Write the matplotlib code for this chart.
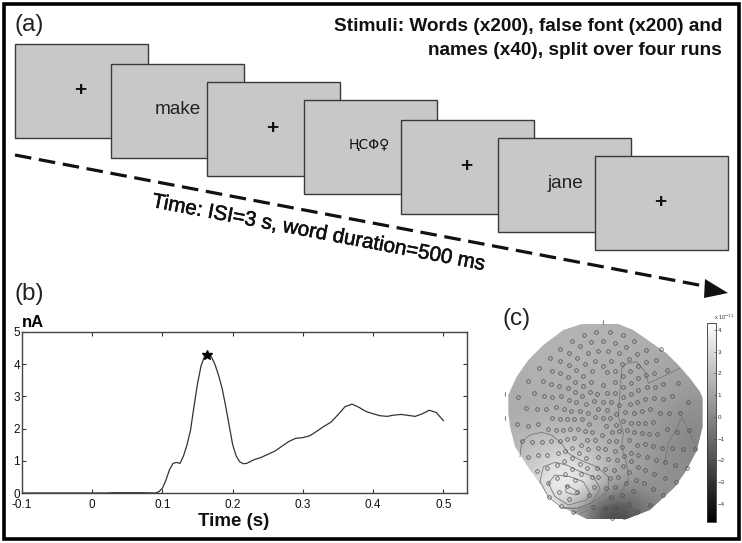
import numpy as np
import matplotlib
matplotlib.use('Agg')
import matplotlib.pyplot as plt
from matplotlib.patches import Rectangle, Polygon
from matplotlib.cm import ScalarMappable
from matplotlib.colors import Normalize
import matplotlib.patheffects as pe

plt.rcParams['font.family'] = ['Liberation Sans', 'DejaVu Sans']

# (b) current over time
time_s = [-0.1, 0.02, 0.03, 0.07, 0.09, 0.095, 0.10, 0.105, 0.11, 0.115, 0.12, 0.125, 0.13, 0.135,
          0.14, 0.145, 0.15, 0.155, 0.16, 0.165, 0.17, 0.175, 0.18, 0.185, 0.19, 0.195, 0.20, 0.205,
          0.21, 0.215, 0.22, 0.23, 0.24, 0.25, 0.26, 0.27, 0.28, 0.29, 0.30, 0.31, 0.32, 0.33, 0.34,
          0.35, 0.36, 0.37, 0.38, 0.39, 0.40, 0.41, 0.42, 0.43, 0.44, 0.45, 0.46, 0.47, 0.48, 0.49, 0.50]
current_na = [0.0, 0.0, 0.01, 0.01, 0.0, 0.04, 0.15, 0.4, 0.72, 0.92, 0.95, 0.92, 1.15, 1.5,
              1.95, 2.7, 3.4, 3.95, 4.25, 4.33, 4.22, 3.98, 3.65, 3.25, 2.7, 2.1, 1.5, 1.15,
              0.97, 0.91, 0.92, 1.03, 1.1, 1.2, 1.3, 1.45, 1.6, 1.7, 1.72, 1.78, 1.92, 2.07, 2.2,
              2.43, 2.68, 2.76, 2.66, 2.53, 2.46, 2.4, 2.38, 2.42, 2.44, 2.41, 2.38, 2.46, 2.57, 2.5, 2.25]
peak = (0.164, 4.3)

# (c) field grey levels, read on a coarse grid over the head
field = [[.70, .70, .70, .70, .70, .69, .68, .67, .66],
         [.70, .70, .70, .70, .69, .68, .67, .66, .64],
         [.68, .69, .69, .69, .68, .67, .66, .64, .62],
         [.67, .68, .68, .68, .67, .66, .64, .61, .58],
         [.68, .70, .70, .69, .67, .65, .62, .58, .54],
         [.72, .76, .78, .74, .69, .65, .61, .56, .52],
         [.74, .82, .90, .85, .72, .65, .60, .56, .54],
         [.78, .88, .98, .92, .66, .58, .58, .57, .56],
         [.75, .80, .78, .55, .28, .30, .48, .55, .56]]

head_x = [305, 415, 460, 510, 560, 595, 630, 660, 668, 668, 651, 620, 585, 510, 441, 320, 260, 205, 150, 105, 90, 85, 85, 110, 145, 190, 250]
head_y = [72, 72, 90, 125, 160, 195, 235, 275, 295, 380, 450, 510, 561, 630, 657, 657, 628, 585, 510, 440, 380, 340, 285, 230, 180, 135, 90]

# sensors, read per quadrant of the map
sensors_tl = [(251,45),(289,35),(216,62),(274,67),(241,78),(180,88),(208,99),(263,98),(294,93),(150,115),
              (181,124),(231,115),(284,122),(207,135),(254,131),(118,145),(156,153),(179,160),(228,150),(276,153),
              (205,170),(250,168),(84,182),(130,182),(154,193),(178,197),(226,185),(273,185),(204,205),(249,198),
              (103,219),(131,227),(155,231),(182,229),(225,217),(270,215),(54,231),(206,239),(247,228),
              (291,222),(228,247),(259,253),(281,243),(79,265),(110,267),(139,267),(168,260),(191,266),(213,272),
              (240,272),(265,280),(295,268),(156,295),(180,297),(200,298),(222,298),(245,298),(285,292)]
sensors_tr = [(29,35),(68,45),(8,62),(44,68),(103,63),(77,81),(25,92),(57,100),(111,101),(139,90),(182,87),
              (33,122),(88,116),(139,127),(169,120),(10,137),(66,132),(113,139),(46,153),(91,153),(139,165),
              (163,158),(202,151),(22,157),(70,168),(114,175),(44,187),(93,190),(164,200),(188,192),(235,190),
              (8,195),(69,200),(141,202),(21,220),(46,218),(93,222),(115,210),(216,229),(70,231),(136,238),
              (163,235),(188,237),(8,245),(33,246),(112,245),(89,253),(265,245),(57,256),(20,269),(48,282),
              (76,277),(102,278),(126,274),(150,268),(179,279),(208,280),(240,280),(8,295),(30,295)]
sensors_bl = [(51,12),(84,19),(115,13),(143,27),(167,31),(189,30),(211,28),(233,28),(254,33),(275,35),(268,11),
              (65,64),(97,66),(125,67),(153,64),(180,62),(201,57),(223,53),(242,74),
              (262,60),(285,60),(216,84),(84,111),(115,106),(142,104),(174,100),(196,93),(236,100),(265,88),
              (293,85),(216,114),(257,115),(191,122),(293,112),(239,131),(171,135),(142,145),(262,143),(290,145),
              (216,148),(110,153),(196,162),(243,163),(275,172),(171,174),(144,188),(224,181),(202,199),(232,216),
              (176,216),(147,231),(266,225),(208,238),(283,201),(294,170),(278,260),(218,275),(182,257)]
sensors_br = [(17,18),(47,14),(68,4),(92,8),(114,9),(135,8),(158,6),(6,45),(36,37),(57,32),(80,30),(103,36),
              (126,40),(147,43),(172,42),(202,28),(232,37),(266,30),(26,62),(47,64),(88,60),(110,74),(134,73),
              (160,78),(187,83),(217,85),(249,86),(284,88),(16,88),(44,92),(67,80),(93,99),(115,104),
              (24,118),(52,120),(72,108),(92,124),(141,112),(168,120),(196,127),(226,134),(260,143),(15,146),
              (43,149),(70,137),(113,140),(87,157),(136,151),(163,162),(196,174),(228,186),(31,175),(55,170),
              (79,190),(108,180),(131,190),(17,204),(46,200),(98,212),(158,208),(188,226),(34,232),(67,226),
              (88,252),(149,256),(16,263),(45,261),(112,277),(72,290),(35,295)]
stray_sensors = [(75, 282), (75, 355), (368, 65)]

contours = [
    [(600,205),(505,250),(495,215),(470,185),(440,190),(425,205),(418,300),(415,350),(430,400),(425,440),
     (440,490),(445,540),(420,580),(350,610),(280,640)],
    [(120,470),(125,425),(150,405),(185,397),(215,405),(245,430),(265,460),(300,480),(350,500),(385,530),
     (385,570),(350,600),(300,625),(250,625)],
    [(180,545),(190,500),(225,487),(260,495),(290,510),(340,530),(360,565),(335,610),(290,625),(245,622),
     (205,590),(180,545)],
    [(205,550),(225,525),(270,530),(310,545),(330,580),(320,600),(265,615),(225,590),(205,550)],
    [(258,558),(265,558),(298,577),(288,585),(258,577),(258,558)],
    [(555,490),(555,480),(565,430),(595,375),(605,350),(625,390),(650,450)],
    [(300,640),(360,615),(420,600),(470,620),(510,625)],
]

colorbar_ticks = [4, 3, 2, 1, 0, -1, -2, -3, -4]

# (a) the stimulus screens, left and top corner in image pixels
screen_left = [15, 110.5, 207, 304, 401, 498, 594.5]
screen_top = [44, 63.5, 81.5, 100, 120, 137.5, 156]
crosses = [(80, 91), (272, 129), (466, 167), (660, 203)]

figure = plt.figure(figsize=(7.42, 5.43), dpi=100)

page = figure.add_axes([0, 0, 1, 1])
page.set_xlim(0, 742)
page.set_ylim(543, 0)
page.axis('off')

for left, top in zip(screen_left, screen_top):
    page.add_patch(Rectangle((left, top), 133, 94, facecolor='#c8c8c8', edgecolor='#3a3a3a', linewidth=1.0))

for x, y in crosses:
    page.text(x, y, '+', fontsize=15, fontweight='bold', color='#111111', ha='center', va='center')
page.text(178, 109, 'make', fontsize=13.7, color='#222222', ha='center', va='center')
page.text(565, 184, 'jane', fontsize=13.7, color='#222222', ha='center', va='center')
page.text(369, 145, 'ⱧCΦ♀', fontsize=10, color='#111111', ha='center', va='center',
          family=['DejaVu Sans'])

page.text(722, 31, 'Stimuli: Words (x200), false font (x200) and', fontsize=13.7, fontweight='bold',
          ha='right', va='baseline', color='#111111')
page.text(722, 55, 'names (x40), split over four runs', fontsize=13.7, fontweight='bold',
          ha='right', va='baseline', color='#111111')

page.plot([15, 704], [155, 286], color='#111111', linewidth=2.3, dashes=(5.2, 2.4))
page.add_patch(Polygon([(728, 293), (705, 279), (704, 298)], closed=True, facecolor='#111111', edgecolor='none'))
page.text(154, 192, 'Time: ISI=3 s, word duration=500 ms', fontsize=14.9, rotation=-10.8, rotation_mode='anchor',
          ha='left', va='top', color='#111111',
          path_effects=[pe.withStroke(linewidth=0.4, foreground='#111111')])

page.text(15, 31, '(a)', fontsize=17.5, color='#222222', va='baseline')
page.text(15, 300, '(b)', fontsize=17.5, color='#222222', va='baseline')
page.text(502, 325, '(c)', fontsize=17.5, color='#222222', va='baseline')
page.text(234, 526, 'Time (s)', fontsize=13.5, fontweight='bold', ha='center', va='baseline', color='#111111')

page.add_patch(Rectangle((3.5, 3.5), 735, 535.5, fill=False, edgecolor='black', linewidth=2.6))

# (b)
axis = figure.add_axes([22 / 742, 1 - 493 / 543, (466.5 - 22) / 742, (493 - 332) / 543])
axis.plot(time_s, current_na, color='#333333', linewidth=0.9)
axis.plot([peak[0]], [peak[1]], marker='*', markersize=7, color='black', linestyle='none')
axis.set_xlim(-0.1, 0.533)
axis.set_ylim(0, 5)
axis.set_xticks([-0.1, 0, 0.1, 0.2, 0.3, 0.4, 0.5])
axis.set_xticklabels(['-0.1', '0', '0.1', '0.2', '0.3', '0.4', '0.5'])
axis.set_yticks([0, 1, 2, 3, 4, 5])
axis.tick_params(direction='in', top=True, right=True, length=3, width=0.8, color='#333333',
                 labelsize=8.5, labelcolor='#111111')
axis.tick_params(axis='x', pad=4.5)
axis.tick_params(axis='y', pad=1.5)
for spine in axis.spines.values():
    spine.set_color('#444444')
    spine.set_linewidth(1.0)
axis.text(11 / 444.5, 1.012, 'nA', transform=axis.transAxes, fontsize=12, fontweight='bold', ha='center', va='bottom')

# (c) map, in units of a third of a pixel from (480, 300)
topo = figure.add_axes([480 / 742, 0, 262 / 742, 243 / 543])
topo.axis('off')
topo.patch.set_alpha(0)
image = topo.imshow(field, extent=(85, 668, 657, 72), cmap='gray', vmin=0, vmax=1,
                    interpolation='bicubic', aspect='auto')
outline = Polygon(list(zip(head_x, head_y)), closed=True, transform=topo.transData, facecolor='none', edgecolor='none')
topo.add_patch(outline)
image.set_clip_path(outline)
topo.set_xlim(0, 786)
topo.set_ylim(729, 0)

for line in contours:
    xs, ys = zip(*line)
    topo.plot(xs, ys, color='#777777', linewidth=0.6)

quadrants = [(sensors_tl, 60, 60), (sensors_tr, 360, 60), (sensors_bl, 60, 360), (sensors_br, 360, 360)]
for points, dx, dy in quadrants:
    xs = [p[0] + dx for p in points]
    ys = [p[1] + dy for p in points]
    topo.plot(xs, ys, linestyle='none', marker='o', markersize=2.6, markerfacecolor='none',
              markeredgecolor='#4a4a4a', markeredgewidth=0.5)
topo.plot([p[0] for p in stray_sensors], [p[1] for p in stray_sensors], linestyle='none', marker='$($',
          markersize=3, color='#555555', markeredgewidth=0.2)

# colorbar
bar = figure.add_axes([707 / 742, 1 - 522 / 543, 9 / 742, (522 - 322.7) / 543])
figure.colorbar(ScalarMappable(norm=Normalize(-4.83, 4.33), cmap='gray'), cax=bar)
bar.set_yticks(colorbar_ticks)
bar.tick_params(labelsize=4.5, length=1.5, width=0.4, pad=1, direction='in', colors='#333333')
for spine in bar.spines.values():
    spine.set_linewidth(0.6)
    spine.set_color('#333333')
bar.text(0.75, 1.005, 'x 10$^{-11}$', transform=bar.transAxes, fontsize=4, color='#333333', va='bottom')

figure.savefig('out.png', dpi=100)
